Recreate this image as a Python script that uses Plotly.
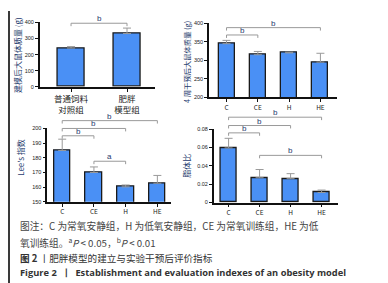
import plotly.graph_objects as go

W, H = 388, 283

# ---- data ----
p1_cats = ["普通饲料<br>对照组", "肥胖<br>模型组"]
p1_mean = [241, 331]
p1_err = [250, 365]

p2_cats = ["C", "CE", "H", "HE"]
p2_mean = [345, 315, 320, 295]
p2_err = [354, 324, 322, 319]

p3_cats = ["C", "CE", "H", "HE"]
p3_mean = [185, 170, 160.2, 162.7]
p3_err = [192.7, 173.8, 161.5, 168]

p4_cats = ["C", "CE", "H", "HE"]
p4_mean = [0.0595, 0.027, 0.026, 0.011]
p4_err = [0.070, 0.036, 0.0315, 0.0136]

p1_sig = [(0, 1, "b")]
p2_sig = [(0, 3, "b"), (0, 1, "b")]
p3_sig = [(0, 3, "b"), (0, 2, "b"), (0, 1, "b"), (1, 2, "a")]
p4_sig = [(0, 3, "b"), (0, 2, "b"), (0, 1, "b"), (1, 3, "b")]

BAR = "#4a90f5"
NAVY = "#1f3b6e"
GREY = "#9a9a9a"

def px(x):
    return x / W

def py(y):
    return 1 - y / H

panels = [
    dict(cats=p1_cats, mean=p1_mean, err=p1_err, sig=p1_sig, x=(31.7, 147), y=(77.5, 11.7),
         yr=[0, 400], xr=[-0.56, 1.5], w=0.48, tv=[0, 100, 200, 300, 400], tt=["0", "100", "200", "300", "400"],
         by=[12.5], cfs=8.5),
    dict(cats=p2_cats, mean=p2_mean, err=p2_err, sig=p2_sig, x=(201, 328.7), y=(88, 12.7),
         yr=[200, 400], xr=[-0.56, 3.52], w=0.51, tv=[200, 250, 300, 350, 400], tt=["200", "250", "300", "350", "400"],
         by=[17, 24.5], cfs=6.5),
    dict(cats=p3_cats, mean=p3_mean, err=p3_err, sig=p3_sig, x=(39.3, 163), y=(195, 120),
         yr=[150, 200], xr=[-0.47, 3.43], w=0.53, tv=[150, 160, 170, 180, 190, 200],
         tt=["150", "160", "170", "180", "190", "200"], by=[112, 120, 127.5, 153.5], cfs=6.5),
    dict(cats=p4_cats, mean=p4_mean, err=p4_err, sig=p4_sig, x=(205.7, 329.7), y=(195.7, 120.7),
         yr=[0, 0.08], xr=[-0.48, 3.52], w=0.5, tv=[0, 0.02, 0.04, 0.06, 0.08],
         tt=["0", "0.02", "0.04", "0.06", "0.08"], by=[108.5, 117, 124.5, 147.5], cfs=6.5),
]

fig = go.Figure()
shapes = []
annotations = []

for i, p in enumerate(panels, start=1):
    xa = "x" if i == 1 else f"x{i}"
    ya = "y" if i == 1 else f"y{i}"
    n = len(p["cats"])
    xs = list(range(n))
    fig.add_trace(go.Bar(
        x=xs, y=p["mean"], width=p["w"], xaxis=xa, yaxis=ya,
        marker=dict(color=BAR, line=dict(color="#1a1a1a", width=1.3)),
        error_y=dict(type="data", symmetric=False,
                     array=[e - m for e, m in zip(p["err"], p["mean"])],
                     arrayminus=[0] * n, color=GREY, thickness=1, width=4),
        showlegend=False, hoverinfo="skip",
    ))
    xkey = "xaxis" if i == 1 else f"xaxis{i}"
    ykey = "yaxis" if i == 1 else f"yaxis{i}"
    fig.update_layout(**{
        xkey: dict(domain=[px(p["x"][0]), px(p["x"][1])], range=p["xr"], anchor=ya,
                   tickmode="array", tickvals=xs, ticktext=p["cats"],
                   showline=True, linecolor="#111", linewidth=1.5, ticks="outside",
                   ticklen=3, tickwidth=1, tickcolor="#111", showgrid=False, zeroline=False,
                   tickfont=dict(size=p["cfs"], color="#222",
                                 family="Noto Sans CJK SC, Liberation Sans, Arial"),
                   fixedrange=True),
        ykey: dict(domain=[py(p["y"][0]), py(p["y"][1])], range=p["yr"], anchor=xa,
                   tickmode="array", tickvals=p["tv"], ticktext=p["tt"],
                   showline=True, linecolor="#111", linewidth=1.5, ticks="outside",
                   ticklen=3, tickwidth=1, tickcolor="#111", showgrid=False, zeroline=False,
                   tickfont=dict(size=5.5, color="#222", family="Liberation Sans, Arial"),
                   fixedrange=True),
    })
    for (a, b, lab), yb in zip(p["sig"], p["by"]):
        yp = py(yb)
        drop = 3 / H
        shapes.append(dict(type="path", xref=xa, yref="paper",
                           path=f"M {a},{yp - drop} L {a},{yp} L {b},{yp} L {b},{yp - drop}",
                           line=dict(color=GREY, width=1)))
        annotations.append(dict(x=(a + b) / 2, y=yp, xref=xa, yref="paper", text=lab,
                                showarrow=False, yanchor="bottom", yshift=-2,
                                font=dict(size=8, color=NAVY, family="Liberation Sans, Arial")))

ytitles = [
    ("建模后大鼠体质量 (g)", 9, 45, 8),
    ("4 周干预后大鼠体质量 (g)", 179, 52, 7.3),
    ("Lee's 指数", 13, 150, 8),
    ("脂体比", 179, 158, 8),
]
for t, x, y, s in ytitles:
    annotations.append(dict(x=px(x), y=py(y), xref="paper", yref="paper", text=t, textangle=-90,
                            showarrow=False, xanchor="center", yanchor="middle",
                            font=dict(size=s, color=NAVY, family="Noto Sans CJK SC")))

captions = [
    ("图注：C 为常氧安静组，H 为低氧安静组，CE 为常氧训练组，HE 为低", 220, 9.7, "#444", "Noto Sans CJK SC"),
    ("氧训练组。<sup>a</sup><i>P</i> &lt; 0.05，<sup>b</sup><i>P</i> &lt; 0.01", 236.5, 9.7, "#444", "Noto Sans CJK SC"),
    ("<b>图 2</b> 丨肥胖模型的建立与实验干预后评价指标", 252, 9.6, "#333", "Noto Sans CJK SC"),
    ("<b>Figure 2  丨  Establishment and evaluation indexes of an obesity model</b>", 267.5, 9.3, "#333", "Open Sans"),
]
for t, y, s, c, f in captions:
    annotations.append(dict(x=px(10), y=py(y), xref="paper", yref="paper", text=t, showarrow=False,
                            xanchor="left", yanchor="middle", font=dict(size=s, color=c, family=f)))

shapes.append(dict(type="rect", xref="paper", yref="paper", x0=0, x1=px(2), y0=0, y1=1,
                   fillcolor="#3a3a3a", line=dict(width=0)))

fig.update_layout(width=W, height=H, margin=dict(l=0, r=0, t=0, b=0),
                  paper_bgcolor="white", plot_bgcolor="white",
                  shapes=shapes, annotations=annotations, bargap=0)
fig.write_html("out.html")
